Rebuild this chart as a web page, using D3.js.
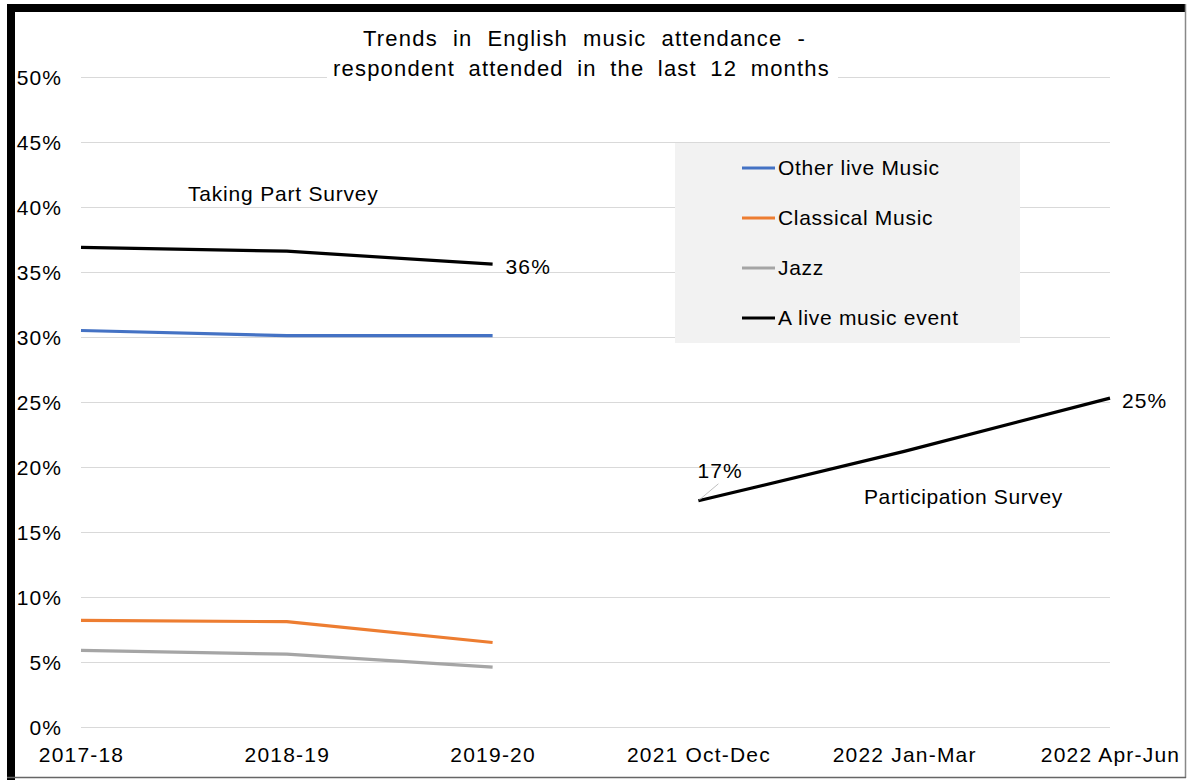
<!DOCTYPE html>
<html>
<head>
<meta charset="utf-8">
<script src="https://cdn.jsdelivr.net/npm/d3@7"></script>
<style>
  html, body { margin: 0; padding: 0; background: #fff; }
  svg { display: block; font-family: "Liberation Sans", Arial, sans-serif; }
</style>
</head>
<body>
<svg id="chart" width="1187" height="780"></svg>
<script>
// Survey periods along the x axis
const categories = ["2017-18", "2018-19", "2019-20", "2021 Oct-Dec", "2022 Jan-Mar", "2022 Apr-Jun"];

// Share of respondents who attended in the last 12 months (%), null = not surveyed
const otherLiveMusic = [30.5, 30.1, 30.1, null, null, null];
const classicalMusic = [8.2, 8.1, 6.5, null, null, null];
const jazz = [5.9, 5.6, 4.6, null, null, null];
const liveMusicEvent = [36.9, 36.6, 35.6, 17.4, 21.2, 25.3];

const yTicks = [0, 5, 10, 15, 20, 25, 30, 35, 40, 45, 50];

const series = [
  { name: "Other live Music", values: otherLiveMusic, color: "#4472C4" },
  { name: "Classical Music", values: classicalMusic, color: "#ED7D31" },
  { name: "Jazz", values: jazz, color: "#A5A5A5" },
  { name: "A live music event", values: liveMusicEvent, color: "#000000" }
];

const FONT = "'Liberation Sans', Arial, sans-serif";
const svg = d3.select("#chart");
const plotLeft = 81, plotRight = 1110, plotTop = 77, plotBottom = 727;

const x = d3.scalePoint().domain(categories).range([plotLeft, plotRight]);
const y = d3.scaleLinear().domain([0, 50]).range([plotBottom, plotTop]);

// Frame: heavy top/left edge, thin right/bottom edge
svg.append("rect").attr("x", 7).attr("y", 4).attr("width", 1178).attr("height", 8).attr("fill", "#000");
svg.append("rect").attr("x", 7).attr("y", 4).attr("width", 8).attr("height", 776).attr("fill", "#000");
svg.append("line").attr("x1", 1185.5).attr("x2", 1185.5).attr("y1", 4).attr("y2", 778).attr("stroke", "#888").attr("stroke-width", 1.5);
svg.append("line").attr("x1", 7).attr("x2", 1186).attr("y1", 777.5).attr("y2", 777.5).attr("stroke", "#666").attr("stroke-width", 1.5);

// Gridlines and y labels
const yAxis = d3.axisLeft(y).tickValues(yTicks).tickSize(-(plotRight - plotLeft)).tickFormat(d => d + "%");
const gy = svg.append("g").attr("transform", `translate(${plotLeft},0)`).call(yAxis);
gy.select(".domain").remove();
gy.selectAll(".tick line").attr("stroke", "#d9d9d9").attr("stroke-width", 1);
gy.selectAll(".tick text")
  .attr("x", -19).attr("dy", "0.34em")
  .attr("font-size", 21).attr("fill", "#000").attr("letter-spacing", 1.1)
  .style("font-family", FONT);

// X axis labels
const xAxis = d3.axisBottom(x).tickSize(0).tickPadding(0);
const gx = svg.append("g").attr("transform", `translate(0,${plotBottom})`).call(xAxis);
gx.select(".domain").remove();
gx.selectAll(".tick text")
  .attr("y", 35).attr("dy", "0")
  .attr("font-size", 21).attr("fill", "#000").attr("letter-spacing", 1.2)
  .style("font-family", FONT);

// Title on a white backing, words spread to fill each line
const titleG = svg.append("g");
titleG.append("rect").attr("x", 327).attr("y", 20).attr("width", 511).attr("height", 66).attr("fill", "#fff");
function spreadLine(text, x0, width, baseline) {
  const t = titleG.append("text").attr("x", x0).attr("y", baseline)
    .attr("font-size", 22).attr("letter-spacing", 1.2).text(text);
  const natural = t.node().getComputedTextLength();
  const gaps = text.split(" ").length - 1;
  t.attr("word-spacing", Math.max(0, (width - natural) / gaps));
}
spreadLine("Trends in English music attendance -", 363, 443, 46);
spreadLine("respondent attended in the last 12 months", 333, 497, 76);

// Lines
const line = d3.line()
  .defined(d => d.v != null)
  .x(d => x(d.c))
  .y(d => y(d.v));

series.forEach(s => {
  const pts = categories.map((c, i) => ({ c, v: s.values[i] }));
  // the two surveys of the live-event series are drawn as separate segments
  const segs = s.name === "A live music event" ? [pts.slice(0, 3), pts.slice(3)] : [pts];
  segs.forEach(seg => {
    svg.append("path").datum(seg).attr("d", line)
      .attr("fill", "none").attr("stroke", s.color).attr("stroke-width", 3.2).attr("stroke-linejoin", "round");
  });
});

// Value labels
const lbl = (t, px, py, ls) => svg.append("text").attr("x", px).attr("y", py)
  .attr("font-size", 21).attr("letter-spacing", ls == null ? 0.8 : ls).text(t);

lbl(Math.round(liveMusicEvent[2]) + "%", x(categories[2]) + 13, y(liveMusicEvent[2]) + 10, 1.1);
lbl(Math.round(liveMusicEvent[5]) + "%", x(categories[5]) + 12, y(liveMusicEvent[5]) + 10, 1.1);
svg.append("line")
  .attr("x1", x(categories[3]) + 1).attr("y1", y(liveMusicEvent[3]) - 1)
  .attr("x2", x(categories[3]) + 20).attr("y2", y(liveMusicEvent[3]) - 17)
  .attr("stroke", "#bfbfbf").attr("stroke-width", 1);
lbl(Math.floor(liveMusicEvent[3]) + "%", x(categories[3]) - 1, y(liveMusicEvent[3]) - 23, 1.1);

// Survey annotations
lbl("Taking Part Survey", 188, 201);
lbl("Participation Survey", 864, 504, 0.6);

// Legend
const lg = svg.append("g");
lg.append("rect").attr("x", 675).attr("y", 143).attr("width", 345).attr("height", 200).attr("fill", "#f2f2f2");
series.forEach((s, i) => {
  const ly = 168 + i * 50;
  lg.append("line").attr("x1", 742).attr("x2", 775).attr("y1", ly).attr("y2", ly)
    .attr("stroke", s.color).attr("stroke-width", 3.2);
  lg.append("text").attr("x", 778).attr("y", ly + 7).attr("font-size", 21).attr("letter-spacing", 0.7).text(s.name);
});
</script>
</body>
</html>
